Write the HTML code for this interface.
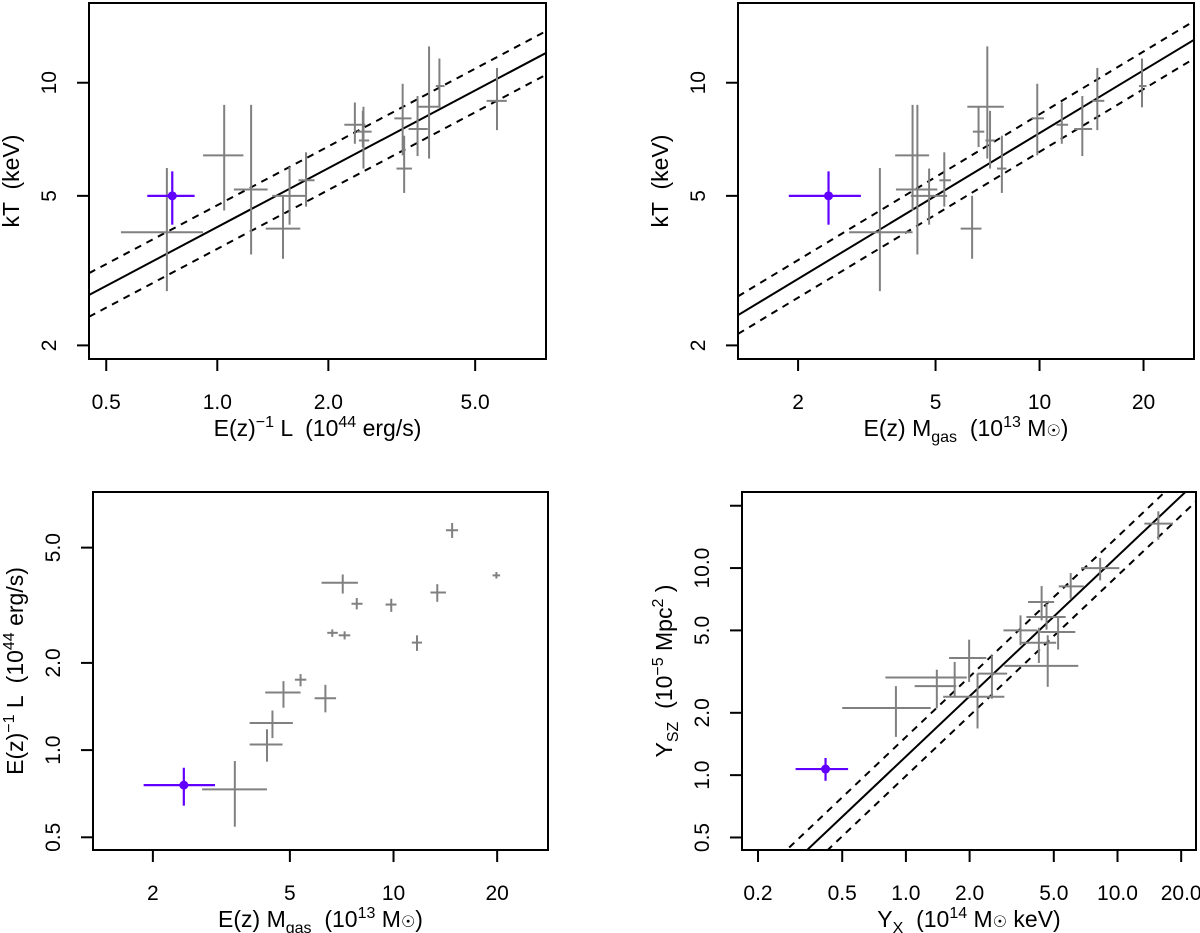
<!DOCTYPE html>
<html><head><meta charset="utf-8"><style>
html,body{margin:0;padding:0;background:#fff}
svg{display:block;font-family:"Liberation Sans",sans-serif}
svg text{white-space:pre}
</style></head><body>
<svg id="fig" width="1200" height="933" viewBox="0 0 1200 933"></svg>
<script>
// ---------- DATA ----------
// Top-left: kT vs L
const tlX=[0.730,1.044,1.235,1.507,1.570,1.740,2.36,2.48,2.49,3.18,3.21,3.49,3.75,4.00,5.73];
const tlXlo=[0.548,0.915,1.109,1.353,1.409,1.660,2.21,2.39,2.42,3.02,3.06,3.30,3.49,3.91,5.37];
const tlXhi=[0.915,1.177,1.369,1.679,1.737,1.835,2.52,2.62,2.58,3.36,3.37,3.72,4.03,4.13,6.09];
const tlY=[4.00,6.41,5.20,4.09,5.00,5.50,7.73,7.41,7.02,8.04,5.91,7.53,8.63,9.80,8.95];
const tlYlo=[2.79,4.57,3.49,3.40,4.19,4.68,6.88,6.74,5.91,6.41,5.09,6.38,6.28,8.63,7.48];
const tlYhi=[5.93,8.73,8.73,5.00,5.97,6.53,8.86,8.42,8.63,9.94,7.23,9.22,12.5,11.6,10.95];
const tlPurple=[0.755,0.646,0.868,5.0,4.19,5.81];
const tlFit=[0.616,0.52,0.058];
// Top-right: kT vs Mgas
const trX=[3.45,4.29,4.43,4.79,5.30,6.38,6.66,7.06,7.19,7.78,9.85,11.6,13.3,14.7,19.8];
const trXlo=[2.81,3.82,3.84,4.24,5.13,5.91,6.41,6.18,6.97,7.53,9.48,11.2,12.6,14.2,19.4];
const trXhi=[4.29,4.79,5.06,5.40,5.54,6.79,6.92,7.88,7.43,8.02,10.3,12.1,14.2,15.4,20.4];
const trY=[4.00,6.41,5.20,5.00,5.50,4.09,7.41,8.63,7.02,5.91,8.04,7.73,7.53,8.95,9.80];
const trYlo=[2.79,4.57,3.49,4.19,4.68,3.40,6.74,6.28,5.91,5.09,6.41,6.88,6.38,7.48,8.60];
const trYhi=[5.93,8.73,8.73,5.91,6.53,5.00,8.63,12.5,8.42,7.23,9.94,8.86,9.22,10.95,11.6];
const trPurple=[2.45,1.88,3.04,5.0,4.19,5.81];
const trFit=[0.311,0.555,0.05];
// Bottom-left: L vs Mgas
const blX=[3.46,4.29,4.45,4.79,5.37,6.34,6.64,7.21,7.12,7.82,9.85,11.7,13.4,14.8,19.9];
const blXlo=[2.78,3.82,3.82,4.24,5.17,5.90,6.42,6.93,6.18,7.55,9.48,11.3,12.8,14.2,19.4];
const blXhi=[4.29,4.76,5.10,5.37,5.58,6.81,6.89,7.49,7.88,8.13,10.2,12.1,14.2,15.4,20.4];
const blY=[0.732,1.046,1.24,1.58,1.75,1.51,2.54,2.49,3.78,3.20,3.18,2.35,3.50,5.74,4.01];
const blYlo=[0.544,0.912,1.10,1.40,1.66,1.35,2.46,2.41,3.47,3.06,3.00,2.20,3.25,5.40,3.91];
const blYhi=[0.917,1.18,1.37,1.73,1.83,1.68,2.61,2.57,4.04,3.35,3.33,2.49,3.74,6.08,4.12];
const blPurple=[2.46,1.88,3.03,0.757,0.643,0.869];
// Bottom-right: Ysz vs Yx
const brX=[0.897,1.40,1.70,1.99,2.18,2.55,3.48,4.25,4.38,4.68,4.62,5.24,6.01,8.28,15.6];
const brXlo=[0.500,1.10,0.80,1.60,1.50,2.18,2.89,3.52,3.78,2.92,3.71,4.31,5.28,6.73,13.4];
const brXhi=[1.31,1.73,1.94,2.40,2.92,3.01,4.17,5.13,5.02,6.53,5.69,6.32,6.93,10.2,18.3];
const brY=[2.11,2.69,2.96,3.68,2.39,3.09,5.00,4.36,6.86,3.37,5.80,4.91,8.16,10.0,16.4];
const brYlo=[1.53,2.10,2.39,2.82,1.68,2.34,4.24,3.48,5.59,2.67,5.04,4.04,7.11,8.72,13.7];
const brYhi=[2.69,3.23,3.52,4.51,3.09,3.79,5.91,5.15,8.19,4.74,6.73,5.80,9.46,11.2,18.8];
const brPurple=[0.417,0.301,0.533,1.07,0.939,1.21];
const brFit=[0.090,0.967,0.094];
// ticks
const tlXticks=[0.5,1.0,2.0,5.0], tlXtickLabels=["0.5","1.0","2.0","5.0"];
const tYticks=[2,5,10], tYtickLabels=["2","5","10"];
const mXticks=[2,5,10,20], mXtickLabels=["2","5","10","20"];
const blYticks=[0.5,1.0,2.0,5.0], blYtickLabels=["0.5","1.0","2.0","5.0"];
const brXticks=[0.2,0.5,1.0,2.0,5.0,10.0,20.0], brXtickLabels=["0.2","0.5","1.0","2.0","5.0","10.0","20.0"];
const brYticks=[0.5,1.0,2.0,5.0,10.0,20.0], brYtickLabels=["0.5","1.0","2.0","5.0","10.0",""];

const NS="http://www.w3.org/2000/svg";
const svg=document.getElementById('fig');
function mk(tag,attrs,parent){const e=document.createElementNS(NS,tag);for(const k in attrs)e.setAttribute(k,attrs[k]);(parent||svg).appendChild(e);return e;}
const L=Math.log10;

function panel(cfg){
  const g=mk('g',{});
  
  
  const b=cfg.box;
  const sx=v=>b.x0+(L(v)-L(cfg.xd[0]))/(L(cfg.xd[1])-L(cfg.xd[0]))*(b.x1-b.x0);
  const sy=v=>b.y1-(L(v)-L(cfg.yd[0]))/(L(cfg.yd[1])-L(cfg.yd[0]))*(b.y1-b.y0);
  const cid='clip-'+cfg.name;
  const cp=mk('clipPath',{id:cid},g);
  mk('rect',{x:b.x0,y:b.y0,width:b.x1-b.x0,height:b.y1-b.y0},cp);
  const inner=mk('g',{'clip-path':'url(#'+cid+')'},g);
  if(cfg.fit){
    const [a,s,d]=cfg.fit;
    const lx0=L(cfg.xd[0]),lx1=L(cfg.xd[1]);
    [[0,'none','fit-line'],[d,'7,6','fit-upper-bound'],[-d,'7,6','fit-lower-bound']].forEach(([off,dash,nm])=>{
      const ln=mk('line',{x1:b.x0,y1:sy(Math.pow(10,a+off+s*lx0)),x2:b.x1,y2:sy(Math.pow(10,a+off+s*lx1)),stroke:'#000','stroke-width':2,'stroke-dasharray':dash},inner);
      
      
    });
  }
  for(let i=0;i<cfg.X.length;i++){
    const pg=mk('g',{stroke:'#808080','stroke-width':2},inner);
    
    
    mk('line',{x1:sx(cfg.Xlo[i]),x2:sx(cfg.Xhi[i]),y1:sy(cfg.Y[i]),y2:sy(cfg.Y[i])},pg);
    mk('line',{x1:sx(cfg.X[i]),x2:sx(cfg.X[i]),y1:sy(cfg.Ylo[i]),y2:sy(cfg.Yhi[i])},pg);
  }
  const p=cfg.P;
  const pp=mk('g',{stroke:'#6200ff','stroke-width':2.2},inner);
  
  
  mk('line',{x1:sx(p[1]),x2:sx(p[2]),y1:sy(p[3]),y2:sy(p[3])},pp);
  mk('line',{x1:sx(p[0]),x2:sx(p[0]),y1:sy(p[4]),y2:sy(p[5])},pp);
  mk('circle',{cx:sx(p[0]),cy:sy(p[3]),r:4.5,fill:'#6200ff',stroke:'none'},pp);
  const bx=mk('rect',{x:b.x0,y:b.y0,width:b.x1-b.x0,height:b.y1-b.y0,fill:'none',stroke:'#000','stroke-width':2},g);
  
  
  const xa=mk('g',{},g);
  
  
  cfg.xt.forEach((v,i)=>{
    const x=sx(v);
    mk('line',{x1:x,x2:x,y1:b.y1,y2:b.y1+12,stroke:'#000','stroke-width':2},xa);
    const t=mk('text',{x:x,y:b.y1+50,'text-anchor':'middle','font-size':21},xa);
    t.textContent=cfg.xtl[i];
    
    
  });
  const ya=mk('g',{},g);
  
  
  cfg.yt.forEach((v,i)=>{
    const y=sy(v);
    mk('line',{x1:b.x0-12,x2:b.x0,y1:y,y2:y,stroke:'#000','stroke-width':2},ya);
    const tx=b.x0-33;
    const t=mk('text',{x:tx,y:y,'text-anchor':'middle','font-size':21,transform:`rotate(-90 ${tx} ${y})`},ya);
    t.textContent=cfg.ytl[i];
    
    
  });
  const xt=mk('text',{x:(b.x0+b.x1)/2,y:b.y1+77,'text-anchor':'middle','font-size':23},g);
  xt.innerHTML=cfg.xtitle;
  
  
  const tyx=b.x0-70, tyy=(b.y0+b.y1)/2;
  const yt=mk('text',{x:tyx,y:tyy,'text-anchor':'middle','font-size':23,transform:`rotate(-90 ${tyx} ${tyy})`},g);
  yt.innerHTML=cfg.ytitle;
  
  
}
const sup=s=>`<tspan dy="-9" font-size="16">${s}</tspan><tspan dy="9"> </tspan>`;
const sub=s=>`<tspan dy="6" font-size="16">${s}</tspan><tspan dy="-6"> </tspan>`;
const kT='kT  (keV)';
const xL='E(z)'+sup('−1')+'L  (10'+sup('44')+'erg/s)';
const xM='E(z) M'+sub('gas')+' (10'+sup('13')+'M<tspan font-size="16">☉</tspan>)';

panel({name:'kT-vs-luminosity-panel',box:{x0:89,x1:546,y0:3,y1:359},xd:[0.449,7.78],yd:[1.84,16.3],
  X:tlX,Xlo:tlXlo,Xhi:tlXhi,Y:tlY,Ylo:tlYlo,Yhi:tlYhi,P:tlPurple,fit:tlFit,
  xt:tlXticks,xtl:tlXtickLabels,yt:tYticks,ytl:tYtickLabels,xtitle:xL,ytitle:kT});
panel({name:'kT-vs-gas-mass-panel',box:{x0:738,x1:1194,y0:3,y1:359},xd:[1.34,28.0],yd:[1.84,16.3],
  X:trX,Xlo:trXlo,Xhi:trXhi,Y:trY,Ylo:trYlo,Yhi:trYhi,P:trPurple,fit:trFit,
  xt:mXticks,xtl:mXtickLabels,yt:tYticks,ytl:tYtickLabels,xtitle:xM,ytitle:kT});
panel({name:'luminosity-vs-gas-mass-panel',box:{x0:93,x1:548,y0:492,y1:850},xd:[1.34,28.1],yd:[0.452,7.78],
  X:blX,Xlo:blXlo,Xhi:blXhi,Y:blY,Ylo:blYlo,Yhi:blYhi,P:blPurple,fit:null,
  xt:mXticks,xtl:mXtickLabels,yt:blYticks,ytl:blYtickLabels,xtitle:xM,ytitle:xL});
panel({name:'ysz-vs-yx-panel',box:{x0:742,x1:1196,y0:492,y1:850},xd:[0.168,23.5],yd:[0.435,23.3],
  X:brX,Xlo:brXlo,Xhi:brXhi,Y:brY,Ylo:brYlo,Yhi:brYhi,P:brPurple,fit:brFit,
  xt:brXticks,xtl:brXtickLabels,yt:brYticks,ytl:brYtickLabels,
  xtitle:'Y'+sub('X')+' (10'+sup('14')+'M<tspan font-size="16">☉</tspan> keV)',
  ytitle:'Y'+sub('SZ')+' (10'+sup('−5')+'Mpc'+sup('2')+')'});
</script>
</body></html>
